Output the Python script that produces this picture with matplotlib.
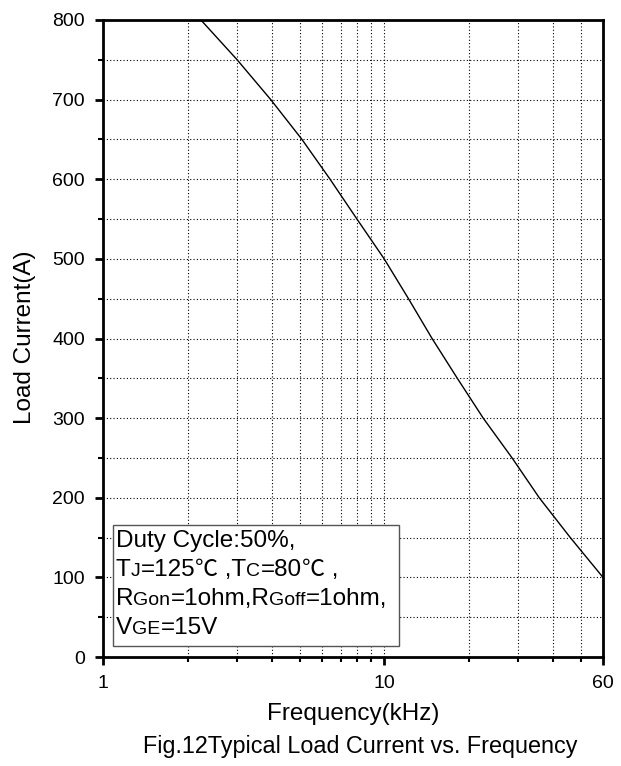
import numpy as np
import matplotlib
matplotlib.use('Agg')
import matplotlib.pyplot as plt
from matplotlib.patches import Rectangle
from matplotlib.ticker import FixedLocator, NullFormatter

# curve (frequency in kHz, current in A)
freq = [2.23, 3.0, 3.95, 5.1, 6.42, 8.0, 10.0, 12.2, 14.8, 18.2, 22.5, 28.5, 35.6, 45.9, 60.0]
current = [800, 750, 700, 650, 600, 550, 500, 450, 400, 350, 300, 250, 200, 150, 100]

x_major = [1, 10, 60]
x_major_labels = ['1', '10', '60']
x_minor = [2, 3, 4, 5, 6, 7, 8, 9, 20, 30, 40, 50]
y_major = [0, 100, 200, 300, 400, 500, 600, 700, 800]
y_minor = [50, 150, 250, 350, 450, 550, 650, 750]

plt.rcParams['font.family'] = ['Liberation Sans', 'DejaVu Sans']

W, H = 621, 766
fig = plt.figure(figsize=(W / 100, H / 100), dpi=100)
ax = fig.add_axes([103 / W, 1 - 657 / H, 500 / W, 637 / H])

ax.plot(freq, current, color='black', lw=1.0, zorder=3)
ax.set_xscale('log')
ax.set_xlim(1, 60)
ax.set_ylim(0, 800)

ax.xaxis.set_major_locator(FixedLocator(x_major))
ax.set_xticklabels(x_major_labels)
ax.xaxis.set_minor_locator(FixedLocator(x_minor))
ax.xaxis.set_minor_formatter(NullFormatter())
ax.yaxis.set_major_locator(FixedLocator(y_major))
ax.yaxis.set_minor_locator(FixedLocator(y_minor))

ax.tick_params(which='major', direction='out', length=6, width=2, labelsize=14, pad=7)
ax.tick_params(which='minor', direction='out', length=3.5, width=1.5)
for s in ax.spines.values():
    s.set_linewidth(2)

# dotted grid
for v in x_minor + [10]:
    ax.axvline(v, color='black', ls=(0, (1, 2)), lw=0.8, zorder=1)
for v in y_major[1:-1] + y_minor:
    ax.axhline(v, color='black', ls=(0, (1, 2)), lw=0.8, zorder=1)

fig.text(353 / W, 1 - 714 / H, 'Frequency(kHz)', ha='center', va='center', fontsize=17.5)
fig.text(25 / W, 1 - 337 / H, 'Load Current(A)', ha='center', va='center', rotation=90, fontsize=17.5)
fig.text(360 / W, 1 - 746 / H, 'Fig.12Typical Load Current vs. Frequency', ha='center', va='center', fontsize=16.8)

# annotation box
fig.add_artist(Rectangle((113 / W, 1 - 646 / H), 286 / W, 121 / H, transform=fig.transFigure,
                         facecolor='white', edgecolor='#555555', lw=1, zorder=4))

renderer = fig.canvas.get_renderer()

def runs(x, y, parts, size=17.5):
    # parts: (text, kind) drawn on one baseline; kind: n normal, s small, c cjk sign
    for txt, kind in parts:
        fam = ['Noto Sans CJK SC'] if kind == 'c' else ['Liberation Sans', 'DejaVu Sans']
        fs = size * 0.8 if kind == 's' else (size * 0.95 if kind == 'c' else size)
        t = fig.text(x / W, 1 - y / H, txt, ha='left', va='baseline',
                     fontsize=fs, family=fam, zorder=5)
        x += t.get_window_extent(renderer).width

runs(116, 547, [('Duty Cycle:50%,', 'n')])
runs(116, 576, [('T', 'n'), ('J', 's'), ('=125', 'n'), ('℃', 'c'), (' ,T', 'n'), ('C', 's'),
                ('=80', 'n'), ('℃', 'c'), (' ,', 'n')])
runs(116, 605, [('R', 'n'), ('Gon', 's'), ('=1ohm,R', 'n'), ('Goff', 's'), ('=1ohm,', 'n')])
runs(116, 634, [('V', 'n'), ('GE', 's'), ('=15V', 'n')])

fig.savefig('out.png', dpi=100)
